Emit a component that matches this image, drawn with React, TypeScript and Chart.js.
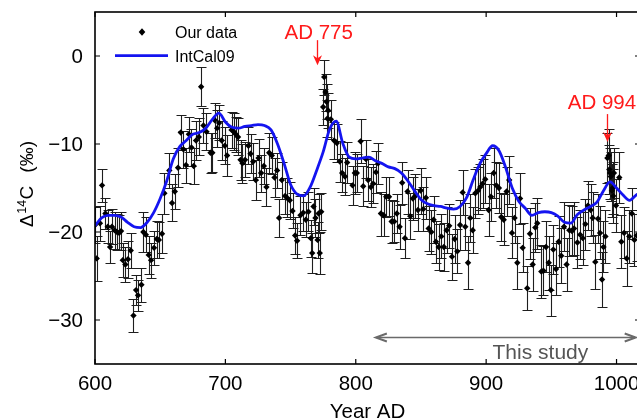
import React, { useEffect, useRef } from 'react';
import { Chart, registerables } from 'chart.js';

Chart.register(...registerables);

// ---- Data ("Our data": year, Δ14C value, 1σ error) ----
const years = [
  600.0, 601.3, 603.8, 605.4, 608.0, 609.8, 611.6, 613.0, 615.1, 616.9,
  618.5, 620.0, 621.3, 623.3, 625.3, 627.4, 629.5, 631.5, 633.0, 635.6,
  637.1, 639.0, 641.2, 643.0, 645.3, 647.4, 649.0, 651.4, 653.2, 657.0,
  659.1, 661.2, 663.7, 665.8, 667.8, 669.8, 672.0, 674.0, 675.7, 677.5,
  679.6, 681.4, 683.2, 685.5, 688.6, 690.0, 691.9, 693.7, 695.2, 697.2,
  699.6, 701.3, 704.7, 706.5, 708.0, 709.7, 711.6, 713.1, 715.1, 717.7,
  719.3, 721.3, 723.3, 725.4, 727.4, 729.5, 731.5, 733.6, 735.6, 737.7,
  739.7, 741.2, 743.3, 745.8, 747.3, 749.4, 751.5, 753.5, 755.0, 757.6,
  759.7, 761.7, 763.7, 765.5, 766.6, 767.6, 769.1, 770.7, 771.5, 772.4,
  773.5, 775.0, 775.8, 776.8, 777.6, 778.3, 778.8, 780.9, 783.4, 785.5,
  787.8, 789.6, 791.7, 793.4, 797.5, 799.3, 800.8, 803.7, 805.7, 807.8,
  809.5, 811.6, 813.4, 815.5, 817.2, 819.3, 821.4, 823.4, 825.5, 827.5,
  829.5, 831.5, 833.6, 835.6, 837.7, 839.7, 841.8, 843.8, 845.8, 847.7,
  849.7, 851.8, 853.8, 855.9, 857.9, 859.7, 861.5, 863.6, 865.6, 867.6,
  869.7, 871.7, 873.8, 875.9, 877.9, 880.0, 882.0, 884.0, 886.1, 887.8,
  889.7, 891.7, 893.8, 895.5, 897.3, 899.3, 901.9, 903.7, 905.8, 907.8,
  909.8, 911.6, 913.5, 915.7, 917.7, 919.8, 921.8, 923.9, 926.0, 928.0,
  931.5, 933.6, 935.7, 937.7, 939.2, 942.3, 943.9, 945.9, 948.0, 949.7,
  951.5, 953.6, 955.6, 957.6, 959.7, 961.7, 963.8, 965.8, 967.4, 970.0,
  972.1, 974.1, 976.1, 978.1, 980.2, 981.7, 983.7, 985.8, 987.4, 988.9,
  990.0, 991.5, 993.0, 994.0, 994.5, 995.0, 995.6, 996.5, 997.1, 997.5,
  998.0, 999.6, 1002.1, 1003.7, 1005.8, 1007.8, 1009.8, 1011.7, 1013.7, 1015.5,
];

const values = [
  -19.2, -23.0, -19.0, -14.7, -17.9, -19.4, -21.7, -19.4, -19.8, -20.0,
  -20.1, -19.9, -23.2, -23.7, -23.1, -22.1, -29.5, -26.6, -27.2, -26.0,
  -20.0, -20.3, -22.6, -23.2, -21.8, -20.8, -20.9, -20.2, -15.6, -13.0,
  -16.7, -15.4, -12.7, -8.7, -10.6, -12.4, -8.9, -10.4, -12.5, -9.6,
  -9.2, -3.5, -7.9, -8.6, -11.0, -11.0, -7.3, -8.2, -7.6, -9.6,
  -10.2, -11.3, -8.4, -8.6, -8.9, -9.2, -11.8, -12.2, -11.8, -10.2,
  -11.1, -12.0, -14.1, -11.6, -13.3, -12.5, -14.9, -11.0, -11.3, -13.8,
  -13.0, -18.4, -14.1, -15.9, -16.1, -16.4, -17.6, -20.4, -21.0, -18.1,
  -17.8, -18.6, -17.7, -20.7, -22.4, -17.1, -18.4, -20.9, -17.9, -22.4,
  -17.7, -5.8, -2.4, -4.1, -5.2, -7.1, -6.2, -7.2, -9.6, -9.9,
  -12.0, -13.3, -13.7, -12.1, -14.7, -13.3, -13.3, -9.7, -14.8, -11.7,
  -14.1, -14.9, -14.5, -13.2, -12.2, -17.9, -18.1, -16.0, -16.0, -18.8,
  -18.8, -17.9, -19.4, -14.4, -20.7, -15.4, -18.2, -16.2, -15.9, -17.5,
  -15.3, -17.4, -16.1, -19.6, -20.0, -18.6, -21.1, -21.7, -20.5, -21.7,
  -19.8, -19.3, -22.8, -20.8, -22.2, -19.2, -15.5, -19.4, -23.5, -18.4,
  -19.8, -15.6, -15.3, -14.9, -14.5, -14.0, -17.5, -16.0, -13.3, -14.7,
  -15.0, -18.3, -18.6, -15.4, -14.1, -20.1, -18.4, -23.5, -16.2, -21.8,
  -26.4, -20.2, -23.7, -19.5, -19.0, -24.5, -24.4, -21.7, -23.5, -26.6,
  -22.0, -24.2, -21.1, -22.7, -19.4, -23.7, -19.8, -19.9, -19.6, -21.2,
  -20.3, -20.7, -19.1, -17.0, -17.5, -18.4, -23.4, -18.5, -20.1, -25.4,
  -21.7, -20.5, -11.6, -11.3, -12.9, -13.3, -13.7, -15.3, -15.0, -15.9,
  -13.3, -17.0, -13.8, -21.1, -20.1, -23.0, -20.5, -17.9, -20.9, -20.4,
];

const errors = [
  2.0, 2.6, 2.0, 1.9, 1.8, 1.9, 1.8, 2.0, 2.1, 2.0,
  2.0, 2.2, 1.9, 2.0, 2.1, 2.0, 1.9, 1.7, 1.8, 1.9,
  2.3, 2.0, 2.2, 2.0, 1.9, 2.1, 2.0, 2.2, 2.3, 2.0,
  2.1, 2.0, 2.2, 2.0, 2.1, 2.0, 2.0, 2.1, 2.0, 2.2,
  2.1, 2.2, 2.0, 2.1, 2.3, 2.2, 2.0, 2.1, 2.0, 2.2,
  2.1, 2.3, 2.0, 2.1, 2.0, 2.1, 2.3, 2.2, 2.0, 2.1,
  2.2, 2.1, 2.3, 2.2, 2.1, 2.0, 2.2, 2.3, 2.1, 2.2,
  2.0, 2.2, 2.1, 2.0, 2.2, 2.1, 2.0, 2.1, 2.0, 2.2,
  2.1, 2.0, 2.2, 2.1, 2.3, 2.1, 2.2, 2.0, 2.2, 2.4,
  2.1, 2.0, 2.0, 2.1, 2.0, 2.1, 2.0, 2.2, 2.1, 2.2,
  2.3, 2.2, 2.1, 2.3, 2.2, 2.4, 2.2, 2.5, 2.3, 2.2,
  2.4, 2.3, 2.2, 2.4, 2.3, 2.5, 2.4, 2.3, 2.2, 2.4,
  2.3, 2.2, 2.5, 2.4, 2.3, 2.5, 2.6, 2.4, 2.5, 2.4,
  2.6, 2.5, 2.4, 2.6, 2.5, 2.7, 2.4, 2.6, 2.5, 2.7,
  2.6, 2.5, 2.6, 2.7, 2.5, 2.8, 2.6, 2.7, 3.0, 2.7,
  2.6, 2.8, 2.7, 2.6, 2.8, 2.7, 2.9, 2.7, 2.8, 2.6,
  2.8, 2.7, 2.9, 2.8, 2.7, 2.9, 2.8, 3.0, 2.9, 2.8,
  2.5, 2.9, 3.0, 2.8, 2.9, 3.0, 2.8, 2.9, 3.1, 2.9,
  2.8, 3.0, 2.9, 3.1, 2.8, 3.0, 2.9, 2.8, 3.0, 2.9,
  2.8, 3.0, 2.9, 2.8, 3.0, 2.9, 3.1, 2.8, 3.0, 3.1,
  2.9, 3.0, 2.8, 3.0, 2.8, 2.9, 2.8, 3.0, 2.9, 3.1,
  2.8, 3.0, 2.9, 3.0, 2.9, 3.1, 3.0, 2.9, 3.0, 2.9,
];

// ---- IntCal09 (5-year grid) ----
const intcalYears = [
  600, 605, 610, 615, 620, 625, 630, 635, 640, 645,
  650, 655, 660, 665, 670, 675, 680, 685, 690, 695,
  700, 705, 710, 715, 720, 725, 730, 735, 740, 745,
  750, 755, 760, 765, 770, 775, 780, 785, 790, 795,
  800, 805, 810, 815, 820, 825, 830, 835, 840, 845,
  850, 855, 860, 865, 870, 875, 880, 885, 890, 895,
  900, 905, 910, 915, 920, 925, 930, 935, 940, 945,
  950, 955, 960, 965, 970, 975, 980, 985, 990, 995,
  1000, 1005, 1010, 1015, 1020,
];
const intcalValues = [
  -19.3, -18.4, -18.1, -18.1, -18.3, -18.9, -19.4, -19.5, -18.9, -17.8,
  -16.2, -14.2, -11.7, -10.3, -9.6, -8.9, -8.7, -8.2, -7.2, -6.5,
  -7.5, -8.1, -8.2, -8.0, -7.9, -7.8, -7.9, -8.4, -10.0, -12.2,
  -14.6, -15.7, -15.9, -14.9, -13.0, -10.9, -8.3, -7.4, -9.9, -11.5,
  -11.7, -11.6, -11.5, -11.9, -12.2, -12.6, -12.8, -13.3, -14.2, -15.3,
  -16.3, -16.8, -17.0, -17.1, -17.3, -17.4, -17.1, -16.1, -14.1, -12.3,
  -11.1, -10.2, -10.8, -12.7, -15.0, -16.5, -17.3, -18.1, -17.8, -17.7,
  -17.8, -18.2, -18.9, -19.0, -18.0, -17.5, -17.1, -16.6, -15.3, -14.3,
  -15.0, -15.8, -16.4, -15.8, -15.3,
];

const xTicks = [600, 700, 800, 900, 1000];
const yTicks = [0, -10, -20, -30];
const X_MIN = 600;
const X_MAX = 1018;
const Y_MIN = -35;
const Y_MAX = 5;

const FONT = '"Liberation Sans", Arial, Helvetica, sans-serif';
const CANVAS_W = 660;
const CANVAS_H = 419;

function fmtTick(v: number): string {
  return v < 0 ? '\u2212' + Math.abs(v) : String(v);
}

const overlayPlugin = {
  id: 'overlay',
  beforeDatasetsDraw(chart: any) {
    const { ctx, chartArea } = chart;
    const xs = chart.scales.x;
    const ys = chart.scales.y;
    ctx.save();
    ctx.beginPath();
    ctx.rect(chartArea.left, chartArea.top, chartArea.right - chartArea.left, chartArea.bottom - chartArea.top);
    ctx.clip();
    ctx.strokeStyle = '#1e1e1e';
    ctx.lineWidth = 1.1;
    ctx.beginPath();
    for (let i = 0; i < years.length; i++) {
      const px = Math.round(xs.getPixelForValue(years[i])) + 0.5;
      const top = Math.round(ys.getPixelForValue(values[i] + errors[i])) + 0.5;
      const bot = Math.round(ys.getPixelForValue(values[i] - errors[i])) + 0.5;
      ctx.moveTo(px, top);
      ctx.lineTo(px, bot);
      ctx.moveTo(px - 5, top);
      ctx.lineTo(px + 5, top);
      ctx.moveTo(px - 5, bot);
      ctx.lineTo(px + 5, bot);
    }
    ctx.stroke();
    ctx.restore();
  },
  afterDraw(chart: any) {
    const { ctx, chartArea } = chart;
    const xs = chart.scales.x;
    const ys = chart.scales.y;
    const L = chartArea.left, R = chartArea.right, T = chartArea.top, B = chartArea.bottom;
    ctx.save();

    // frame
    ctx.strokeStyle = '#000';
    ctx.lineWidth = 1.6;
    ctx.strokeRect(L, T, R - L, B - T);

    // inward ticks
    ctx.lineWidth = 1.2;
    ctx.beginPath();
    xTicks.forEach((t) => {
      const px = xs.getPixelForValue(t);
      ctx.moveTo(px, B); ctx.lineTo(px, B - 5);
      ctx.moveTo(px, T); ctx.lineTo(px, T + 5);
    });
    yTicks.forEach((t) => {
      const py = ys.getPixelForValue(t);
      ctx.moveTo(L, py); ctx.lineTo(L + 5, py);
      ctx.moveTo(R, py); ctx.lineTo(R - 5, py);
    });
    ctx.stroke();

    // tick labels
    ctx.fillStyle = '#000';
    ctx.font = `20.5px ${FONT}`;
    ctx.textBaseline = 'alphabetic';
    ctx.textAlign = 'center';
    xTicks.forEach((t) => {
      ctx.fillText(String(t), xs.getPixelForValue(t), 390);
    });
    ctx.textAlign = 'right';
    yTicks.forEach((t) => {
      ctx.fillText(fmtTick(t), L - 12, ys.getPixelForValue(t) + 7.3);
    });

    // x title
    ctx.textAlign = 'center';
    ctx.font = `20.5px ${FONT}`;
    ctx.fillText('Year AD', (L + R) / 2, 418);

    // y title (rotated) : Δ14C (‰)
    ctx.save();
    ctx.rotate(-Math.PI / 2);
    ctx.textAlign = 'left';
    const bigF = `19px ${FONT}`;
    const smallF = `12.5px ${FONT}`;
    ctx.font = bigF;
    const wD = ctx.measureText('\u0394').width;
    const wC = ctx.measureText('C').width;
    const wP = ctx.measureText('(\u2030)').width;
    ctx.font = smallF;
    const w14 = ctx.measureText('14').width;
    const gap = 13;
    const total = wD + w14 + wC + gap + wP;
    const centerY = 184.5;
    let lx = -(centerY + total / 2);
    const base = 33;
    ctx.font = bigF;
    ctx.fillText('\u0394', lx, base); lx += wD + 0.5;
    ctx.font = smallF;
    ctx.fillText('14', lx, base - 7.5); lx += w14 + 0.5;
    ctx.font = bigF;
    ctx.fillText('C', lx, base); lx += wC + gap;
    ctx.fillText('(\u2030)', lx, base);
    ctx.restore();

    // legend
    ctx.fillStyle = '#000';
    ctx.beginPath();
    ctx.moveTo(142, 28.3); ctx.lineTo(145.3, 32); ctx.lineTo(142, 35.7); ctx.lineTo(138.7, 32);
    ctx.closePath();
    ctx.fill();
    ctx.strokeStyle = '#1414f0';
    ctx.lineWidth = 2.8;
    ctx.beginPath();
    ctx.moveTo(115, 55.7); ctx.lineTo(168, 55.7);
    ctx.stroke();
    ctx.fillStyle = '#000';
    ctx.font = `16px ${FONT}`;
    ctx.textAlign = 'left';
    ctx.fillText('Our data', 175, 37.5);
    ctx.fillText('IntCal09', 175, 61.5);

    // red annotation arrows
    const drawDownArrow = (x: number, y0: number, y1: number, color: string) => {
      ctx.strokeStyle = color;
      ctx.fillStyle = color;
      ctx.lineWidth = 1.3;
      ctx.beginPath();
      ctx.moveTo(x, y0); ctx.lineTo(x, y1 - 4);
      ctx.stroke();
      ctx.beginPath();
      ctx.moveTo(x, y1);
      ctx.lineTo(x - 4.5, y1 - 10);
      ctx.lineTo(x, y1 - 7);
      ctx.lineTo(x + 4.5, y1 - 10);
      ctx.closePath();
      ctx.fill();
    };
    const red = '#ff1a1a';
    ctx.fillStyle = red;
    ctx.font = `20.5px ${FONT}`;
    ctx.textAlign = 'center';
    ctx.fillText('AD 775', xs.getPixelForValue(771.6), ys.getPixelForValue(1.9));
    drawDownArrow(Math.round(xs.getPixelForValue(770.65)) + 0.5, ys.getPixelForValue(1.8), ys.getPixelForValue(-1.05), red);
    ctx.fillStyle = red;
    ctx.fillText('AD 994', xs.getPixelForValue(988.8), ys.getPixelForValue(-6.06));
    drawDownArrow(Math.round(xs.getPixelForValue(992.7)) + 0.5, ys.getPixelForValue(-6.6), ys.getPixelForValue(-9.77), red);

    // "This study" double arrow
    const gray = '#6a6a6a';
    const ax0 = xs.getPixelForValue(815.4);
    const ax1 = xs.getPixelForValue(1014.7);
    const ay = Math.round(ys.getPixelForValue(-31.93)) + 0.5;
    ctx.strokeStyle = gray;
    ctx.lineWidth = 1.4;
    ctx.beginPath();
    ctx.moveTo(ax0 + 1, ay); ctx.lineTo(ax1 - 1, ay);
    ctx.stroke();
    ctx.lineWidth = 2;
    ctx.beginPath();
    ctx.moveTo(ax0 + 11, ay - 4); ctx.lineTo(ax0, ay); ctx.lineTo(ax0 + 11, ay + 4);
    ctx.moveTo(ax1 - 11, ay - 4); ctx.lineTo(ax1, ay); ctx.lineTo(ax1 - 11, ay + 4);
    ctx.stroke();
    ctx.fillStyle = '#555';
    ctx.font = `21px ${FONT}`;
    ctx.textAlign = 'center';
    ctx.fillText('This study', xs.getPixelForValue(941.6), ys.getPixelForValue(-34.47));

    ctx.restore();
  },
};

export default function App() {
  const canvasRef = useRef<HTMLCanvasElement | null>(null);

  useEffect(() => {
    const canvas = canvasRef.current;
    if (!canvas) return;
    const ourData = years.map((y, i) => ({ x: y, y: values[i] }));
    const intcal = intcalYears.map((y, i) => ({ x: y, y: intcalValues[i] }));
    const chart = new Chart(canvas, {
      type: 'scatter',
      data: {
        datasets: [
          {
            type: 'line',
            label: 'IntCal09',
            data: intcal,
            borderColor: '#1414f0',
            borderWidth: 2.8,
            pointRadius: 0,
            showLine: true,
            fill: false,
            cubicInterpolationMode: 'monotone',
            order: 0,
          } as any,
          {
            label: 'Our data',
            data: ourData,
            pointStyle: 'rectRot',
            pointRadius: 3.2,
            backgroundColor: '#000',
            borderColor: '#000',
            borderWidth: 0,
            order: 1,
          },
        ],
      },
      options: {
        responsive: false,
        animation: false,
        devicePixelRatio: 1,
        events: [],
        layout: { padding: { left: 95, top: 12, right: CANVAS_W - 640, bottom: CANVAS_H - 364 } },
        plugins: { legend: { display: false }, tooltip: { enabled: false } },
        scales: {
          x: { type: 'linear', min: X_MIN, max: X_MAX, display: false },
          y: { type: 'linear', min: Y_MIN, max: Y_MAX, display: false },
        },
      },
      plugins: [overlayPlugin],
    });
    return () => chart.destroy();
  }, []);

  return (
    <div style={{ position: 'absolute', left: 0, top: 0, width: 637, height: 419, overflow: 'hidden', background: '#fff' }}>
      <canvas ref={canvasRef} width={CANVAS_W} height={CANVAS_H} style={{ display: 'block' }} />
    </div>
  );
}
